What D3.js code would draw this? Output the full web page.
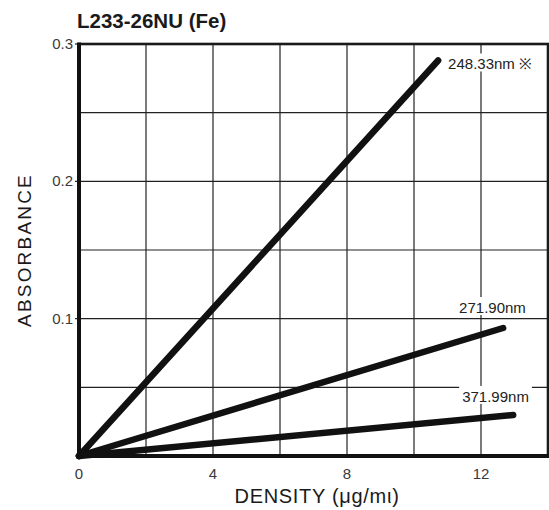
<!DOCTYPE html>
<html>
<head>
<meta charset="utf-8">
<script src="https://cdn.jsdelivr.net/npm/d3@7"></script>
<style>
  html, body { margin: 0; padding: 0; background: #fff; }
  svg { display: block; }
  .tick-label { font-family: "Liberation Sans", Arial, sans-serif; font-size: 15px; fill: #3a3a3a; }
  .series-label { font-family: "Liberation Sans", Arial, sans-serif; font-size: 15px; fill: #222; }
</style>
</head>
<body>
<svg id="chart" width="549" height="510"></svg>
<script>
// Calibration lines for Fe hollow cathode lamp: absorbance vs. density
const wavelengths = ["248.33nm ※", "271.90nm", "371.99nm"];
const densityStart = [0, 0, 0];
const densityEnd = [10.72, 12.66, 12.96];
const absorbanceStart = [0, 0, 0];
const absorbanceEnd = [0.288, 0.0932, 0.0299];

const xTickValues = [0, 4, 8, 12];
const xGridValues = [2, 4, 6, 8, 10, 12];
const yTickValues = [0.1, 0.2, 0.3];
const yTickLabels = ["0.1", "0.2", "0.3"];
const yGridValues = [0.05, 0.1, 0.15, 0.2, 0.25];

const svg = d3.select("#chart");
const plotLeft = 79, plotRight = 548, plotTop = 44, plotBottom = 456;

const x = d3.scaleLinear().domain([0, 14]).range([plotLeft, plotRight]);
const y = d3.scaleLinear().domain([0, 0.3]).range([plotBottom, plotTop]);

// grid
svg.append("g").selectAll("line").data(xGridValues).join("line")
  .attr("x1", d => x(d)).attr("x2", d => x(d))
  .attr("y1", plotTop).attr("y2", plotBottom)
  .attr("stroke", "#222").attr("stroke-width", 1.2);
svg.append("g").selectAll("line").data(yGridValues).join("line")
  .attr("x1", plotLeft).attr("x2", plotRight)
  .attr("y1", d => y(d)).attr("y2", d => y(d))
  .attr("stroke", "#222").attr("stroke-width", 1.2);

// small ticks left of the y axis
svg.append("g").selectAll("line").data(yTickValues).join("line")
  .attr("x1", plotLeft - 4).attr("x2", plotLeft)
  .attr("y1", d => y(d)).attr("y2", d => y(d))
  .attr("stroke", "#222").attr("stroke-width", 1.2);

// frame
svg.append("rect")
  .attr("x", plotLeft).attr("y", plotTop)
  .attr("width", plotRight - plotLeft).attr("height", plotBottom - plotTop)
  .attr("fill", "none").attr("stroke", "#1a1a1a").attr("stroke-width", 2.6);
svg.append("line").attr("x1", plotLeft).attr("x2", plotLeft).attr("y1", plotTop - 1.5).attr("y2", plotBottom + 2)
  .attr("stroke", "#111").attr("stroke-width", 4);
svg.append("line").attr("x1", plotLeft).attr("x2", plotRight + 1.5).attr("y1", plotBottom).attr("y2", plotBottom)
  .attr("stroke", "#111").attr("stroke-width", 4);

// series labels with white backing that breaks the grid
const labelPos = [
  { dx: 10, dy: 9 },
  { dx: -44, dy: -15 },
  { dx: -51, dy: -13 }
];
const labels = svg.append("g");
wavelengths.forEach((w, i) => {
  const t = labels.append("text")
    .attr("class", "series-label")
    .attr("x", x(densityEnd[i]) + labelPos[i].dx)
    .attr("y", y(absorbanceEnd[i]) + labelPos[i].dy)
    .text(w);
  const bb = t.node().getBBox();
  labels.insert("rect", "text")
    .attr("x", bb.x - 3).attr("y", bb.y - 2)
    .attr("width", bb.width + 6).attr("height", bb.height + 1)
    .attr("fill", "#fff");
});

// calibration lines
svg.append("g").selectAll("line").data(wavelengths).join("line")
  .attr("x1", (d, i) => x(densityStart[i]))
  .attr("y1", (d, i) => y(absorbanceStart[i]))
  .attr("x2", (d, i) => x(densityEnd[i]))
  .attr("y2", (d, i) => y(absorbanceEnd[i]))
  .attr("stroke", "#111").attr("stroke-width", 6.5).attr("stroke-linecap", "round");

// axis tick labels
svg.append("g").selectAll("text").data(xTickValues).join("text")
  .attr("class", "tick-label")
  .attr("x", d => x(d)).attr("y", plotBottom + 23)
  .attr("text-anchor", "middle")
  .text(d => d);
svg.append("g").selectAll("text").data(yTickValues).join("text")
  .attr("class", "tick-label")
  .attr("x", plotLeft - 6).attr("y", d => y(d) + 5)
  .attr("text-anchor", "end")
  .text((d, i) => yTickLabels[i]);

// titles
svg.append("text")
  .attr("x", 77).attr("y", 28)
  .attr("font-family", "Liberation Sans, Arial, sans-serif")
  .attr("font-size", 20.5).attr("font-weight", "bold").attr("fill", "#1a1a1a")
  .text("L233-26NU (Fe)");

svg.append("text")
  .attr("transform", `translate(31, 250) rotate(-90)`)
  .attr("text-anchor", "middle")
  .attr("font-family", "Liberation Sans, Arial, sans-serif")
  .attr("font-size", 19).attr("letter-spacing", 2.2).attr("fill", "#1a1a1a")
  .text("ABSORBANCE");

svg.append("text")
  .attr("x", 317).attr("y", 503)
  .attr("text-anchor", "middle")
  .attr("font-family", "Liberation Sans, Arial, sans-serif")
  .attr("font-size", 20).attr("letter-spacing", 0.7).attr("fill", "#1a1a1a")
  .text("DENSITY (μg/mι)");
</script>
</body>
</html>
